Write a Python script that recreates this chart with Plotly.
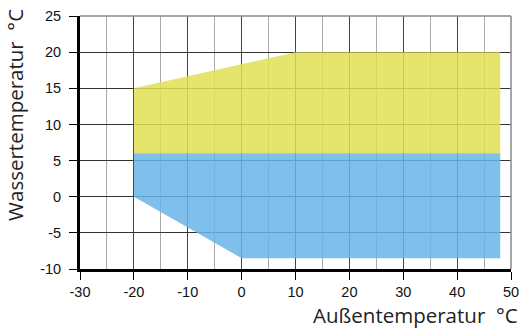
import plotly.graph_objects as go

# Data
yellow_x = [-20, 10, 48, 48, -20]
yellow_y = [15, 20, 20, 6, 6]
blue_x = [-20, 48, 48, 0, -20]
blue_y = [6, 6, -8.5, -8.5, 0]

x_ticks = [-30, -20, -10, 0, 10, 20, 30, 40, 50]
x_ticklabels = ["-30", "-20", "-10", "0", "10", "20", "30", "40", "50"]
y_ticks = [-10, -5, 0, 5, 10, 15, 20, 25]
y_ticklabels = ["-10", "-5", "0", "5", "10", "15", "20", "25"]
x_range = [-30, 50]
y_range = [-10, 25]
x_title = "Außentemperatur\u00a0\u00a0°C"
y_title = "Wassertemperatur\u00a0\u00a0°C"

fig = go.Figure()
fig.add_trace(go.Scatter(x=yellow_x, y=yellow_y, fill="toself", mode="none",
                         fillcolor="rgba(224,224,84,0.85)", hoverinfo="skip"))
fig.add_trace(go.Scatter(x=blue_x, y=blue_y, fill="toself", mode="none",
                         fillcolor="rgba(104,180,231,0.85)", hoverinfo="skip"))

tickfont = dict(family="Liberation Sans, Arial", size=14.5, color="#111")
fig.update_xaxes(range=x_range, tickvals=x_ticks, ticktext=x_ticklabels,
                 showgrid=True, gridcolor="#444", gridwidth=1,
                 minor=dict(dtick=5, tick0=0, showgrid=True, gridcolor="#aaa", gridwidth=1),
                 showline=True, linecolor="black", linewidth=3,
                 ticks="outside", ticklen=8, tickcolor="black", tickwidth=1,
                 ticklabeloverflow="allow", automargin=False,
                 tickfont=tickfont, zeroline=False, fixedrange=True)
fig.update_yaxes(range=y_range, tickvals=y_ticks, ticktext=y_ticklabels,
                 showgrid=True, gridcolor="#333", gridwidth=1,
                 showline=True, linecolor="black", linewidth=3,
                 ticks="outside", ticklen=8, tickcolor="black", tickwidth=1,
                 ticklabelstandoff=5, automargin=False,
                 tickfont=tickfont, zeroline=False, fixedrange=True)

fig.add_shape(type="line", xref="paper", yref="paper", x0=0, x1=1, y0=1, y1=1,
              line=dict(color="#888", width=1.5))
fig.add_shape(type="line", xref="paper", yref="paper", x0=1, x1=1, y0=0, y1=1,
              line=dict(color="#888", width=1.5))

titlefont = dict(family="Open Sans, Lato", size=20.5, color="#222")
fig.add_annotation(text=x_title, xref="paper", yref="paper", x=1, y=-0.18,
                   xanchor="right", yanchor="middle", xshift=8, borderpad=0,
                   showarrow=False, font=titlefont)
fig.add_annotation(text=y_title, xref="paper", yref="paper", x=-0.151, y=1,
                   xanchor="center", yanchor="top", yshift=9, textangle=-90,
                   showarrow=False, font=titlefont)

fig.update_layout(width=519, height=329, margin=dict(l=80, r=8, t=16, b=60),
                  plot_bgcolor="white", paper_bgcolor="white", showlegend=False)
fig.write_html("out.html", config={"displayModeBar": False},
               post_script="document.body.style.margin='0';document.body.style.overflow='hidden';")
